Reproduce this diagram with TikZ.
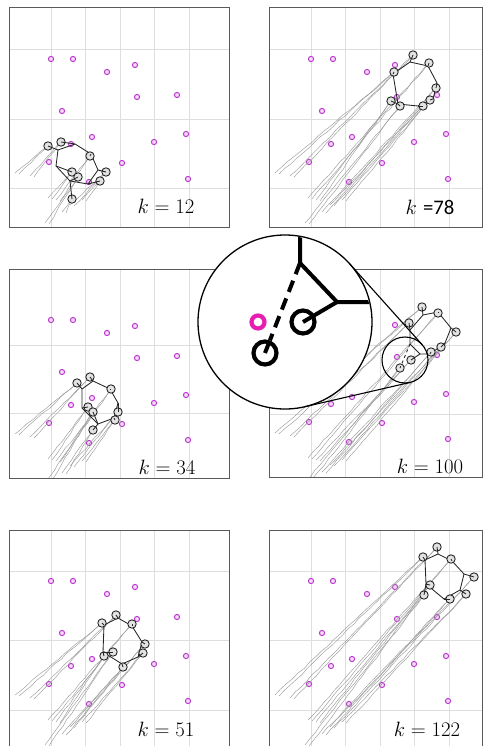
\documentclass[tikz,border=0pt]{standalone}
\usepackage{fontspec}
\newfontfamily\carlito{Carlito}
\usetikzlibrary{decorations.pathmorphing,calc}
\definecolor{tgt}{RGB}{185,60,205}
\definecolor{tgtfill}{RGB}{246,218,248}
\definecolor{zoommag}{RGB}{232,30,178}
\definecolor{framec}{RGB}{90,90,90}
\definecolor{gridc}{RGB}{222,222,222}
\definecolor{trajc}{RGB}{155,155,155}
\tikzset{
  frame/.style={draw=framec,line width=0.9pt},
  gridline/.style={draw=gridc,line width=0.6pt},
  traj/.style={draw=trajc,line width=0.45pt,decorate,decoration={random steps,segment length=8pt,amplitude=0.6pt}},
  robot/.style={circle,draw=black!85,line width=0.9pt,fill=gray!22,minimum size=8.4pt,inner sep=0pt},
  link/.style={draw=black!85,line width=0.85pt},
  target/.style={circle,draw=tgt,line width=1pt,fill=tgtfill,minimum size=5.2pt,inner sep=0pt},
  klabel/.style={font=\fontsize{20.74}{24}\selectfont,inner sep=0pt},
  thickl/.style={line width=4pt,draw=black},
}
\def\tgtlist{51/59,73/59,107/72,135/65,137/97,177/95,62/111,92/137,186/134,154/142,49/162,122/163,89/182,188/179,71/144}
\def\startlist{15/173,30/176,48/198,56/200,45/223,70/205,82/200,62/212}
% #1 prefix, #2 right, #3 top, #4 bottom, #5 hlines, #6 vertices, #7 robots, #8 label pos, #9 label
\newcommand\panel[9]{%
  \begin{scope}
    \clip (9,#3) rectangle (#2,#4);
    \foreach \gx in {51,85,120,154,189} \draw[gridline] (\gx,#3) -- (\gx,#4);
    \foreach \gy in {#5} \draw[gridline] (9,\gy) -- (#2,\gy);
    \foreach \tx/\ty [count=\i] in \tgtlist \node[target] (#1t\i) at (\tx,\ty) {};
    \foreach \sx/\sy [count=\i] in \startlist \coordinate (#1s\i) at (\sx,\sy);
    \foreach \vx/\vy [count=\i] in {#6} {\coordinate (#1v\i) at (\vx,\vy); \xdef\nv{\i}}
    \foreach \rx/\ry/\rv/\rs [count=\i] in {#7} {
      \coordinate (#1c\i) at (\rx,\ry);
      \draw[traj] (#1s\rs) -- (#1c\i);
      \draw[traj] ($(#1s\rs)+(4,1)$) -- (#1c\i);
    }
    \draw[link] (#1v1) \foreach \j in {2,...,\nv} {-- (#1v\j)} -- cycle;
    \foreach \rx/\ry/\rv/\rs [count=\i] in {#7} {
      \node[robot] (#1r\i) at (#1c\i) {};
      \ifnum\rv>0 \draw[link] (#1v\rv) -- (#1r\i.center);\fi
    }
  \end{scope}
  \draw[frame] (9,#3) rectangle (#2,#4);
  \node[klabel] (#1k) at #8 {#9};
}
\begin{document}
\begin{tikzpicture}[x=1pt,y=-1pt]
\pgfmathsetseed{7}
\useasboundingbox (0,0) rectangle (484,746);
% panel 1
\begin{scope}
\panel{pa}{229}{7}{227}{49,119,188}
 {58/150,75/144,91/154,98/170,88/184,70/181,56/166}
 {48/146/1/1,61/142/2/2,90/156/3/4,106/172/4/6,100/181/5/7,72/172/7/3,78/177/6/5,72/199/6/8}
 {(166,206)}{$k = 12$}
\end{scope}
% panel 2
\begin{scope}[shift={(260,0)}]
\panel{pb}{222}{7}{227}{49,119,188}
 {133/74,150/62,168/66,177/83,173/99,158/106,138/104}
 {153/55/2/2,169/63/3/3,176/88/4/8,170/100/5/7,163/106/6/6,140/106/7/5,131/101/7/4,134/72/1/1}
 {(170,207)}{$k$ {\carlito =78}}
\end{scope}
% panel 3
\begin{scope}[shift={(0,261)}]
\panel{pc}{229}{8}{217}{84,152}
 {82/128,93/120,110/128,118/142,114/157,98/163,82/147}
 {77/122/1/1,90/116/2/2,111/128/3/4,118/151/4/6,115/159/5/7,88/146/7/3,93/151/6/5,93/169/6/8}
 {(167,206)}{$k = 34$}
\end{scope}
% panel 4
\begin{scope}[shift={(260,260)}]
\panel{pd}{222}{9}{217}{85,154}
 {150/70,163/55,178/52,191/68,185/83,170/94,160/94,150/84}
 {162/47/2/1,178/53/3/3,196/72/4/7,181/87/5/6,171/92/6/8,149/63/1/2,151/100/7/4,140/108/0/5}
 {(170,206)}{$k = 100$}
\draw[link,dashed] (pdv8) -- (pdr8.center);
\end{scope}
% panel 5
\begin{scope}[shift={(0,522)}]
\panel{pe}{229}{8}{248}{49,118,188}
 {104/103,118/96,132/104,142/120,138/135,122/142,103/130}
 {102/101/1/1,116/93/2/2,132/102/3/3,145/122/4/8,143/131/5/7,123/145/6/6,104/134/7/4,113/130/7/5}
 {(166,207)}{$k = 51$}
\end{scope}
% panel 6
\begin{scope}[shift={(260,522)}]
\panel{pf}{222}{8}{248}{49,118,188}
 {165/38,178/32,192/39,204/52,200/68,184/77,166/62}
 {163/35/1/1,177/25/2/2,191/37/3/3,214/55/4/6,206/72/5/7,190/77/6/8,170/63/7/4,164/73/7/5}
 {(167,207)}{$k = 122$}
\end{scope}
% magnifier
\node[circle,draw=black,line width=1.3pt,fill=white,minimum size=174pt,inner sep=0pt] (mag) at (285,322) {};
\node[circle,draw=black,line width=1.1pt,minimum size=46pt,inner sep=0pt] (lens) at (405,360) {};
\coordinate (tu1) at ($(mag.center)+(-41.9:87)$);
\coordinate (tu2) at ($(lens.center)+(-41.9:23)$);
\coordinate (tl1) at ($(mag.center)+(77.0:87)$);
\coordinate (tl2) at ($(lens.center)+(77.0:23)$);
\draw[line width=1.1pt] (tu1) -- (tu2);
\draw[line width=1.1pt] (tl1) -- (tl2);
\begin{scope}
  \clip (285,322) circle[radius=86pt];
  \coordinate (mtop) at (300,225);
  \coordinate (mj1) at (300,263);
  \coordinate (mj2) at (337,302);
  \coordinate (mright) at (385,302);
  \node[circle,draw=black,line width=4.2pt,fill=white,minimum size=23pt,inner sep=0pt] (mA) at (303,322) {};
  \node[circle,draw=black,line width=4.2pt,fill=white,minimum size=23pt,inner sep=0pt] (mB) at (265,353) {};
  \node[circle,draw=zoommag,line width=4.2pt,minimum size=13pt,inner sep=0pt] (mT) at (258,322) {};
  \draw[thickl] (mtop) -- (mj1) -- (mj2) -- (mright);
  \draw[thickl] (mj2) -- (mA.center);
  \draw[thickl,dash pattern=on 12pt off 7pt] (mj1) -- (mB);
  \draw[thickl] (mB.center) -- ($(mB.center)!11.5pt!(mj1)$);
\end{scope}
\end{tikzpicture}
\end{document}
